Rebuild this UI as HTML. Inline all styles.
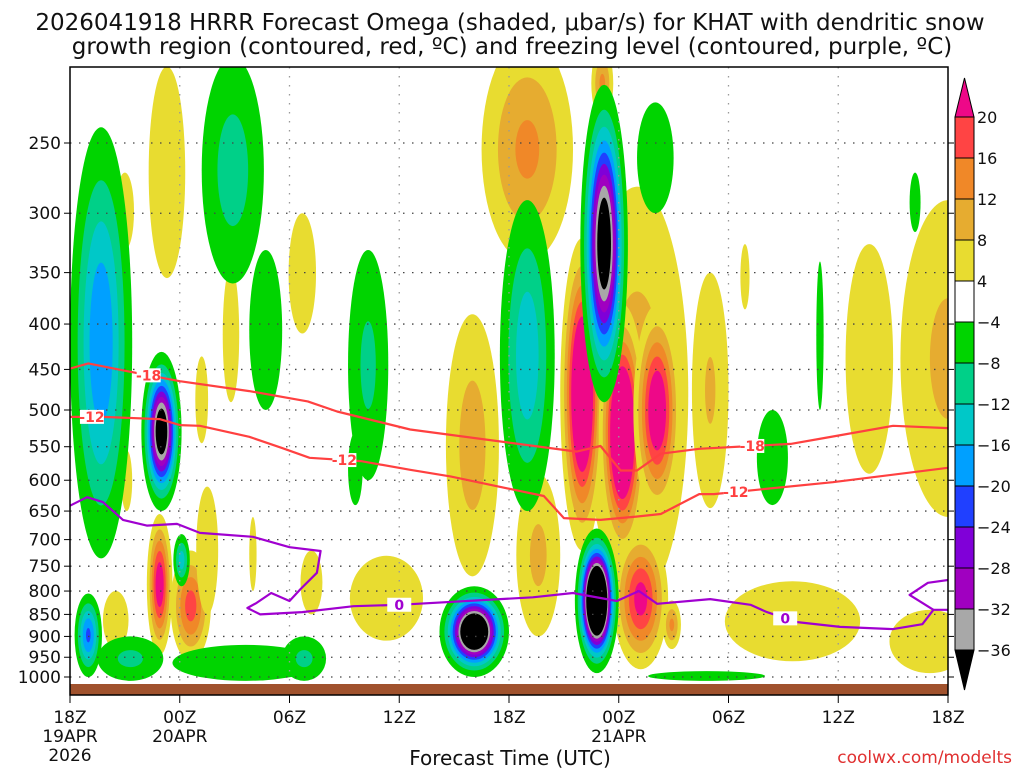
<!DOCTYPE html>
<html><head><meta charset="utf-8">
<style>
html,body{margin:0;padding:0;background:#fff;}
body{width:1024px;height:768px;overflow:hidden;font-family:"DejaVu Sans",sans-serif;}
svg text{font-family:"DejaVu Sans","Liberation Sans",sans-serif;}
</style></head>
<body>
<svg id="chart" width="1024" height="768" viewBox="0 0 1024 768" xmlns="http://www.w3.org/2000/svg">
<defs><clipPath id="plotclip"><rect x="70" y="67" width="878" height="628"/></clipPath></defs>
<text x="510" y="30" font-size="23" text-anchor="middle" fill="#111">2026041918 HRRR Forecast Omega (shaded, μbar/s) for KHAT with dendritic snow</text>
<text x="512" y="54" font-size="23" text-anchor="middle" fill="#111">growth region (contoured, red, ºC) and freezing level (contoured, purple, ºC)</text>
<g id="shading" clip-path="url(#plotclip)"></g>
<g id="grid"></g>
<g id="contours" clip-path="url(#plotclip)"></g>
<rect x="70" y="684" width="878" height="11" fill="#a0522d"/>
<rect x="70" y="67" width="878" height="628" fill="none" stroke="#000" stroke-width="1.5"/>
<g id="axes"></g>
<g id="colorbar"></g>
<text x="510" y="765" font-size="20" text-anchor="middle" fill="#111">Forecast Time (UTC)</text>
<text x="1012" y="763" font-size="17" text-anchor="end" fill="#e03030">coolwx.com/modelts</text>
</svg>
<script>
// ---- data ----
const yTicks = [250,300,350,400,450,500,550,600,650,700,750,800,850,900,950,1000];
const xTickHours = [0,6,12,18,24,30,36,42,48];
const xTickLabels = ["18Z","00Z","06Z","12Z","18Z","00Z","06Z","12Z","18Z"];
const xTickDates = ["19APR\n2026","20APR","","","","21APR","","",""];
const posLevels = [4,8,12,16,20];
const posColors = ["#e8dc30","#e6ac30","#f08828","#ff4444","#ee0888"];
const negLevels = [-4,-8,-12,-16,-20,-24,-28,-32,-36];
const negColors = ["#00d400","#00d088","#00c8c8","#00a0ff","#2040ff","#8000d8","#a000c0","#a8a8a8","#000000"];
const cbLabels = ["20","16","12","8","4","−4","−8","−12","−16","−20","−24","−28","−32","−36"];
const cbColors = ["#ff4444","#f08828","#e6ac30","#e8dc30","#ffffff","#00d400","#00d088","#00c8c8","#00a0ff","#2040ff","#8000d8","#a000c0","#a8a8a8"];
// upward (positive) omega blobs: center hour, top pressure, bottom pressure, half-width hours, peak value
const blobT    = [31.0,25.0,28.0,30.2,32.1,31.2,32.9,22.0,25.6,17.3,29.1,35.0,36.9,43.7,48.0,39.5,47.0, 5.3, 3.0, 8.8, 7.2, 3.1, 4.9, 6.6, 7.5,10.0,13.2, 2.5,12.7];
const blobP0   = [ 280, 190, 320, 380, 380, 680, 820, 390, 590, 730, 195, 350, 325, 325, 290, 780, 840, 205, 270, 345, 435, 555, 655, 720, 610, 660, 720, 800, 300];
const blobP1   = [ 820, 340, 720, 740, 660, 980, 930, 770, 900, 910, 235, 645, 385, 590, 660, 960, 990, 355, 330, 490, 545, 650, 945, 960, 850, 800, 850, 930, 410];
const blobHW   = [ 2.8, 2.5, 1.2, 1.3, 1.3, 1.5, 0.5,1.45, 1.2, 2.0, 0.6, 1.0,0.25, 1.3, 2.6, 3.7, 2.2, 1.0, 0.5,0.45,0.35, 0.3, 0.7, 1.1, 0.6, 0.2, 0.6, 0.7,0.75];
const blobPeak = [  10,  13,  34,  36,  26,  22,  13,  10,   9,   6,  13, 8.5,   5,   6,   9, 6.5,   6,   6,   6,   6,   5,   5,  24,  18,   6,   5,   5,   7,   5];
// downward (negative) omega blobs
const nblobT    = [ 1.7, 1.0, 8.9,10.7,16.3,15.6, 5.0, 6.1, 3.3, 9.6,12.8,25.0,29.2,28.8,22.1,32.0,46.2,41.0,38.4,34.8];
const nblobP0   = [ 240, 805, 200, 330, 330, 530, 430, 690, 900, 920, 900, 290, 215, 680, 790, 225, 270, 340, 500, 985];
const nblobP1   = [ 735,1000, 360, 500, 600, 640, 650, 790,1010,1010,1010, 650, 490, 990,1000, 300, 315, 500, 640,1010];
const nblobHW   = [ 1.7,0.75, 1.7, 0.9, 1.1, 0.4, 1.1,0.45, 1.8, 4.0, 1.2, 1.5, 1.3, 1.2, 1.9, 1.0, 0.3, 0.2,0.85, 3.2];
const nblobPeak = [ -20, -21, -10,  -7,  -9,  -6, -44, -14,  -9,  -7,  -9, -15, -44, -70, -55,  -6,  -6,  -6,  -6,  -6];
// contours: hour / pressure pairs
const m18T = [0,1.0,3.1,6.0,9.8,13.0,14.6,18.6,27.7,29.0,30.1,31.0,32.3,34.4,39.4,41.4,45.0,48];
const m18P = [449,443,452,464,476,489,502,526,557,549,585,585,560,553,546,537,521,524];
const m12T = [0,1.8,4.9,6.0,7.1,9.8,11.6,13.1,15.9,18.6,20.8,25.9,27.0,29.0,30.8,32.3,34.4,35.2,41.7,48];
const m12P = [509,509,512,520,521,536,552,566,571,584,594,625,662,665,660,655,622,622,603,581];
const zT = [0,0.93,1.8,2.9,4.2,5.85,7.1,10.0,12.0,13.7,13.5,12.6,12.0,11.0,10.2,9.7,10.4,12.7,15.5,18.0,25.3,27.5,29.9,31.1,32.1,35.0,37.2,38.1,39.7,42.1,45.0,46.6,47.2,48.1];
const zP = [641,627,635,665,675,672,688,695,714,721,763,796,821,804,825,836,850,845,832,829,813,804,821,800,827,817,829,845,867,878,883,872,840,840];
const zbT = [48.1,46.9,45.9,47.2];
const zbP = [777,783,808,840];

// ---- scales ----
const X0=70, PXH=878/48, YT=143, YSPAN=534;
function xs(t){return X0+t*PXH;}
function ys(p){return YT+(Math.log(p)-Math.log(250))/Math.log(4)*YSPAN;}
const NS="http://www.w3.org/2000/svg";
function mk(tag,attrs,parent){const e=document.createElementNS(NS,tag);for(const k in attrs)e.setAttribute(k,attrs[k]);parent.appendChild(e);return e;}

// ---- shading ----
const shade=document.getElementById('shading');
function drawBlob(t,p0,p1,hw,peak,levels,colors,name){
  const cx=xs(t), y0=ys(p0), y1=ys(p1), cy=(y0+y1)/2, ry=(y1-y0)/2, rx=hw*PXH;
  const a=Math.abs(peak);
  const base=Math.log(a/Math.abs(levels[0]));
  for(let k=0;k<levels.length;k++){
    const L=Math.abs(levels[k]);
    if(a<=L) break;
    const s=Math.sqrt(Math.log(a/L)/base);
    const e=mk('ellipse',{cx:cx,cy:cy,rx:rx*s,ry:ry*s,fill:colors[k]},shade);
    
    
  }
}
for(let i=0;i<blobT.length;i++) drawBlob(blobT[i],blobP0[i],blobP1[i],blobHW[i],blobPeak[i],posLevels,posColors,'upward-omega-region');
for(let i=0;i<nblobT.length;i++) drawBlob(nblobT[i],nblobP0[i],nblobP1[i],nblobHW[i],nblobPeak[i],negLevels,negColors,'downward-omega-region');

// ---- grid & axes ----
const grid=document.getElementById('grid'), axes=document.getElementById('axes');
yTicks.forEach(p=>{
  const y=ys(p);
  const g=mk('line',{x1:70,x2:948,y1:y,y2:y,stroke:'#444','stroke-width':1.3,'stroke-dasharray':'1.5 7.5'},grid);
  
  
  mk('line',{x1:64,x2:70,y1:y,y2:y,stroke:'#000'},axes);
  mk('line',{x1:948,x2:954,y1:y,y2:y,stroke:'#000'},axes);
  const tx=mk('text',{x:61,y:y+6,'font-size':17,'text-anchor':'end',fill:'#111'},axes);
  tx.textContent=p;
  
  
});
xTickHours.forEach((h,i)=>{
  const x=xs(h);
  if(i>0&&i<xTickHours.length-1){
    const g=mk('line',{x1:x,x2:x,y1:67,y2:695,stroke:'#999','stroke-width':1.3,'stroke-dasharray':'1.5 7.5'},grid);
    
    
  }
  mk('line',{x1:x,x2:x,y1:695,y2:703,stroke:'#000'},axes);
  const tx=mk('text',{x:x,y:723,'font-size':17,'text-anchor':'middle',fill:'#111'},axes);
  tx.textContent=xTickLabels[i];
  
  
  xTickDates[i].split('\n').forEach((ln,j)=>{
    if(!ln)return;
    const d=mk('text',{x:x,y:742+j*19,'font-size':17,'text-anchor':'middle',fill:'#111'},axes);
    d.textContent=ln;
    
    
  });
});

// ---- contours ----
const cg=document.getElementById('contours');
function line(T,P,color,name){
  const pts=T.map((t,i)=>xs(t).toFixed(1)+','+ys(P[i]).toFixed(1)).join(' ');
  const e=mk('polyline',{points:pts,fill:'none',stroke:color,'stroke-width':2.2,'stroke-linejoin':'round'},cg);
  
  
}
function label(t,P_T,P_P,txt,color){
  let p=P_P[0];
  for(let i=0;i<P_T.length-1;i++){if(t>=P_T[i]&&t<=P_T[i+1]){const f=(t-P_T[i])/(P_T[i+1]-P_T[i]);p=P_P[i]+f*(P_P[i+1]-P_P[i]);break;}}
  const x=xs(t),y=ys(p);
  mk('rect',{x:x-12,y:y-7,width:24,height:14,fill:'#fff'},cg);
  const tx=mk('text',{x:x,y:y+5,'font-size':14,'font-weight':'bold','text-anchor':'middle',fill:color},cg);
  tx.textContent=txt;
  
  
}
line(m18T,m18P,'#ff4040','contour-minus18');
line(m12T,m12P,'#ff4040','contour-minus12');
line(zT,zP,'#a000d0','freezing-level-contour');
line(zbT,zbP,'#a000d0','freezing-level-contour-right');
label(4.3,m18T,m18P,'-18','#ff4040');
label(37.3,m18T,m18P,'-18','#ff4040');
label(1.2,m12T,m12P,'-12','#ff4040');
label(15.0,m12T,m12P,'-12','#ff4040');
label(36.4,m12T,m12P,'-12','#ff4040');
label(18.0,zT.slice(18,21),zP.slice(18,21),'0','#a000d0');
label(39.1,zT.slice(27,30),zP.slice(27,30),'0','#a000d0');

// ---- colorbar ----
const cb=document.getElementById('colorbar');
const CX=955,CW=19,CT=117,BH=41;
mk('polygon',{points:`${CX},${CT} ${CX+CW},${CT} ${CX+CW/2},78`,fill:'#ee0888',stroke:'#000'},cb);
cbColors.forEach((c,i)=>{
  const r=mk('rect',{x:CX,y:CT+i*BH,width:CW,height:BH,fill:c,stroke:'#000','stroke-width':1},cb);
  
  
});
const CB=CT+cbColors.length*BH;
mk('polygon',{points:`${CX},${CB} ${CX+CW},${CB} ${CX+CW/2},690`,fill:'#000',stroke:'#000'},cb);
cbLabels.forEach((l,i)=>{
  const tx=mk('text',{x:977,y:CT+i*BH+6,'font-size':16,fill:'#111'},cb);
  tx.textContent=l;
  
  
});
</script>
</body></html>
